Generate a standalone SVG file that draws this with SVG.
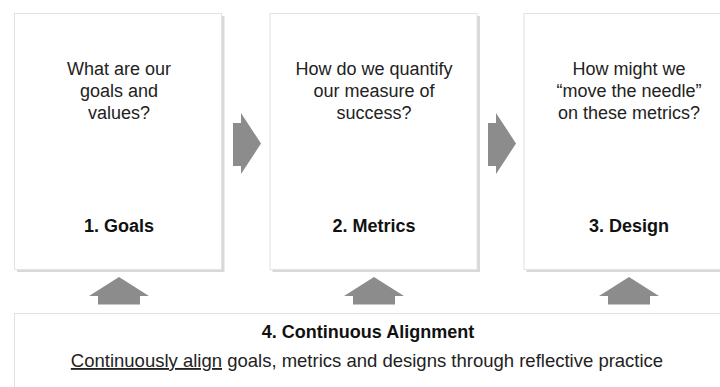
<svg xmlns="http://www.w3.org/2000/svg" width="720" height="387" viewBox="0 0 720 387">
<style>
.shadow{fill:#d9d9d9}
.box{fill:#ffffff;stroke:#e2e2e2;stroke-width:1}
.q{font-family:"Liberation Sans",Arial,sans-serif;font-size:18px;fill:#222222;text-anchor:middle}
.t{font-family:"Liberation Sans",Arial,sans-serif;font-size:18px;font-weight:bold;fill:#111111;text-anchor:middle}
.arrow{fill:#8c8c8c}
</style>
<rect width="720" height="387" fill="#ffffff"/>
<g id="goals">
<rect class="shadow" x="17" y="16" width="207.5" height="256"/>
<rect class="box" x="14.5" y="13.5" width="207" height="256"/>
<text class="q" x="119" y="75">What are our</text>
<text class="q" x="119" y="97">goals and</text>
<text class="q" x="119" y="119">values?</text>
<text class="t" x="119" y="232">1. Goals</text>
</g>
<g id="metrics">
<rect class="shadow" x="272.5" y="16" width="207.5" height="256"/>
<rect class="box" x="270" y="13.5" width="207" height="256"/>
<text class="q" x="374" y="75">How do we quantify</text>
<text class="q" x="374" y="97">our measure of</text>
<text class="q" x="374" y="119">success?</text>
<text class="t" x="374" y="232">2. Metrics</text>
</g>
<g id="design">
<rect class="shadow" x="526.5" y="16" width="207.5" height="256"/>
<rect class="box" x="524" y="13.5" width="207" height="256"/>
<text class="q" x="629" y="75">How might we</text>
<text class="q" x="629" y="97">“move the needle”</text>
<text class="q" x="629" y="119">on these metrics?</text>
<text class="t" x="629" y="232">3. Design</text>
</g>
<g id="alignment">
<rect class="shadow" x="16" y="315" width="720" height="100"/>
<rect class="box" x="14.5" y="313.5" width="720" height="100"/>
<text class="t" x="368" y="338">4. Continuous Alignment</text>
<text class="q" x="367" y="367" style="font-size:18.5px"><tspan text-decoration="underline">Continuously align</tspan> goals, metrics and designs through reflective practice</text>
</g>
<g id="connectors">
<polygon class="arrow" points="233,123 241,123 241,113 261,143.5 241,174 241,166 233,166"/>
<polygon class="arrow" points="488,123 496,123 496,113 516,143.5 496,174 496,166 488,166"/>
<polygon class="arrow" points="119,277 149,296 140,296 140,304.5 98,304.5 98,296 89,296"/>
<polygon class="arrow" points="374,277 404,296 395,296 395,304.5 353,304.5 353,296 344,296"/>
<polygon class="arrow" points="629,277 659,296 650,296 650,304.5 608,304.5 608,296 599,296"/>
</g>
</svg>
